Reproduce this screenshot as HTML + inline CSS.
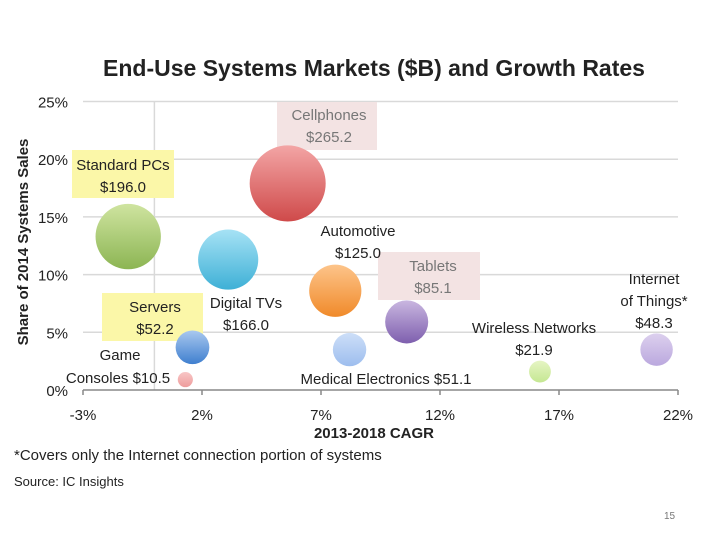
<!DOCTYPE html>
<html><head><meta charset="utf-8"><style>
body{margin:0;background:#fff;width:720px;height:540px;overflow:hidden;font-family:"Liberation Sans",sans-serif}
</style></head><body>
<svg width="720" height="540" font-family="Liberation Sans, sans-serif">
<defs id="defs"></defs>
<text x="374" y="76" text-anchor="middle" font-size="23" font-weight="bold" fill="#222">End-Use Systems Markets ($B) and Growth Rates</text>
<g id="grid"></g>
<g id="boxes">
<rect x="277" y="102" width="100" height="48" fill="#f3e3e3"/>
<rect x="72" y="150" width="102" height="48" fill="#fbf7a8"/>
<rect x="102" y="293" width="101" height="48" fill="#fbf7a8"/>
<rect x="378" y="252" width="102" height="48" fill="#f3e3e3"/>
</g>
<g id="bubbles"></g>
<g id="labels" font-size="15" fill="#222" text-anchor="middle">
<text x="329" y="120" fill="#777"><tspan x="329">Cellphones</tspan><tspan x="329" dy="22">$265.2</tspan></text>
<text x="123" y="170"><tspan x="123">Standard PCs</tspan><tspan x="123" dy="22">$196.0</tspan></text>
<text x="358" y="236"><tspan x="358">Automotive</tspan><tspan x="358" dy="22">$125.0</tspan></text>
<text x="433" y="271" fill="#777"><tspan x="433">Tablets</tspan><tspan x="433" dy="22">$85.1</tspan></text>
<text x="654" y="284"><tspan x="654">Internet</tspan><tspan x="654" dy="22">of Things*</tspan><tspan x="654" dy="22">$48.3</tspan></text>
<text x="155" y="312"><tspan x="155">Servers</tspan><tspan x="155" dy="22">$52.2</tspan></text>
<text x="246" y="308"><tspan x="246">Digital TVs</tspan><tspan x="246" dy="22">$166.0</tspan></text>
<text x="534" y="333"><tspan x="534">Wireless Networks</tspan><tspan x="534" dy="22">$21.9</tspan></text>
<text x="120" y="360"><tspan x="120">Game</tspan><tspan x="118" dy="23">Consoles $10.5</tspan></text>
<text x="386" y="384">Medical Electronics $51.1</text>
</g>
<g id="axes"></g>
<text x="28" y="242" transform="rotate(-90 28 242)" text-anchor="middle" font-size="15" font-weight="bold" fill="#222">Share of 2014 Systems Sales</text>
<text x="374" y="438" text-anchor="middle" font-size="15" font-weight="bold" fill="#222">2013-2018 CAGR</text>
<text x="14" y="460" font-size="15" fill="#222">*Covers only the Internet connection portion of systems</text>
<text x="14" y="486" font-size="13" fill="#222">Source: IC Insights</text>
<text x="664" y="519" font-size="10" fill="#777">15</text>
</svg>
<script>
const categories=["Standard PCs","Digital TVs","Cellphones","Automotive","Tablets","Servers","Game Consoles","Medical Electronics","Wireless Networks","Internet of Things"];
const cagr=[-1.1,3.1,5.6,7.6,10.6,1.6,1.3,8.2,16.2,21.1];
const share=[13.3,11.3,17.9,8.6,5.9,3.7,0.9,3.5,1.6,3.5];
const sales=[196.0,166.0,265.2,125.0,85.1,52.2,10.5,51.1,21.9,48.3];
const colors=[["#cfe4a0","#8cb553"],["#a6e2f5","#3eb0d6"],["#f3a5a5","#cf4a4a"],["#fdc48a","#f08a2a"],["#c9b6e0","#7e5fae"],["#a9c8ef","#3f7fcf"],["#f8c6c6","#ee9c9c"],["#cddff8","#9dbdee"],["#e6f5c4","#c5e792"],["#dcd0ee","#bba8de"]];
const xTicks=[-3,2,7,12,17,22];
const yTicks=[0,5,10,15,20,25];
const NS="http://www.w3.org/2000/svg";
const X=v=>83+(v+3)*119/5;
const Y=v=>390-v*57.7/5;
const R=v=>2.334*Math.sqrt(v);
function mk(t,a,p){const e=document.createElementNS(NS,t);for(const k in a)e.setAttribute(k,a[k]);p.appendChild(e);return e;}
const grid=document.getElementById('grid'),axes=document.getElementById('axes'),bub=document.getElementById('bubbles'),defs=document.getElementById('defs');
yTicks.forEach(t=>{
 if(t>0){const l=mk('line',{x1:X(-3),x2:X(22),y1:Y(t),y2:Y(t),stroke:'#d9d9d9','stroke-width':1.5},grid);
 
 }
 const tx=mk('text',{x:68,y:Y(t)+6,'text-anchor':'end','font-size':15,fill:'#222'},axes);tx.textContent=t+'%';
 
 
});
const vl=mk('line',{x1:X(0),x2:X(0),y1:Y(25),y2:Y(0),stroke:'#d9d9d9','stroke-width':1.5},grid);


const xl=mk('line',{x1:X(-3),x2:X(22),y1:Y(0),y2:Y(0),stroke:'#888','stroke-width':1.5},axes);


xTicks.forEach(t=>{
 const tk=mk('line',{x1:X(t),x2:X(t),y1:Y(0),y2:Y(0)+5,stroke:'#888','stroke-width':1.5},axes);
 
 
 const tx=mk('text',{x:X(t),y:Y(0)+30,'text-anchor':'middle','font-size':15,fill:'#222'},axes);tx.textContent=t+'%';
 
 
});
categories.forEach((c,i)=>{
 const g=mk('linearGradient',{id:'g'+i,x1:0,y1:0,x2:0,y2:1},defs);
 mk('stop',{offset:'0','stop-color':colors[i][0]},g);mk('stop',{offset:'1','stop-color':colors[i][1]},g);
 const b=mk('circle',{cx:X(cagr[i]),cy:Y(share[i]),r:R(sales[i]),fill:'url(#g'+i+')'},bub);
 
 
});
</script>
</body></html>
